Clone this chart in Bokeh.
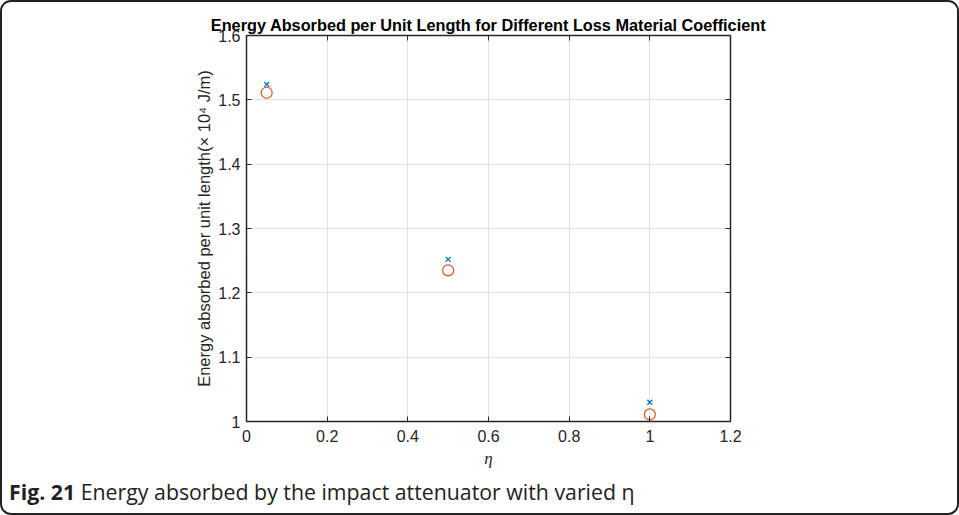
from bokeh.plotting import figure
from bokeh.layouts import column
from bokeh.models import Div, LinearAxis, FixedTicker, CustomJSTickFormatter
from bokeh.embed import file_html
from bokeh.resources import INLINE

# loss material coefficient and absorbed energy (x 10^4 J/m)
eta = [0.05, 0.5, 1.0]
energy_cross = [1.524, 1.252, 1.030]
energy_circle = [1.511, 1.235, 1.011]

x_ticks = [0, 0.2, 0.4, 0.6, 0.8, 1, 1.2]
y_ticks = [1, 1.1, 1.2, 1.3, 1.4, 1.5, 1.6]

AX = "#262626"
TICK_FONT = "Liberation Sans"

p = figure(width=955, height=470, x_range=(0, 1.2), y_range=(1, 1.6),
           output_backend="svg", toolbar_location=None,
           min_border_left=244, min_border_right=227,
           min_border_top=33, min_border_bottom=51)

p.title.text = "Energy Absorbed per Unit Length for Different Loss Material Coefficient"
p.title.align = "center"
p.title.text_font = "Liberation Sans"
p.title.text_font_size = "16.3px"
p.title.text_font_style = "bold"
p.title.text_color = "#000000"
p.title.standoff = 3

p.outline_line_color = AX
p.outline_line_width = 1.5
p.outline_line_alpha = 1

for ax, ticks in ((p.xaxis[0], x_ticks), (p.yaxis[0], y_ticks)):
    ax.ticker = FixedTicker(ticks=ticks)
    ax.major_tick_in = 5
    ax.major_tick_out = 0
    ax.minor_tick_line_color = None
    ax.axis_line_color = AX
    ax.major_tick_line_color = AX
    ax.major_label_text_font = TICK_FONT
    ax.major_label_text_font_size = "16px"
    ax.major_label_text_color = AX

p.xaxis.major_label_standoff = 8
p.yaxis.major_label_standoff = 6
p.xaxis.formatter = CustomJSTickFormatter(code="return String(Number(tick.toFixed(1)));")
p.yaxis.formatter = CustomJSTickFormatter(code="return String(Number(tick.toFixed(1)));")

p.xaxis.axis_label = "η"
p.xaxis.axis_label_text_font = "Liberation Serif"
p.xaxis.axis_label_text_font_style = "italic"
p.xaxis.axis_label_text_font_size = "17px"
p.xaxis.axis_label_text_color = AX
p.xaxis.axis_label_standoff = 4

p.yaxis.axis_label = "Energy absorbed per unit length(× 10⁴ J/m)"
p.yaxis.axis_label_text_font = TICK_FONT
p.yaxis.axis_label_text_font_style = "normal"
p.yaxis.axis_label_text_font_size = "16.5px"
p.yaxis.axis_label_text_color = AX
p.yaxis.axis_label_standoff = 2

# mirrored inward ticks on top and right of the box
blank = CustomJSTickFormatter(code="return '';")
top = LinearAxis(ticker=FixedTicker(ticks=x_ticks), formatter=blank,
                 major_tick_in=5, major_tick_out=0, minor_tick_line_color=None,
                 axis_line_color=AX, major_tick_line_color=AX,
                 major_label_text_font_size="1px", major_label_standoff=0)
right = LinearAxis(ticker=FixedTicker(ticks=y_ticks), formatter=blank,
                   major_tick_in=5, major_tick_out=0, minor_tick_line_color=None,
                   axis_line_color=AX, major_tick_line_color=AX,
                   major_label_text_font_size="1px", major_label_standoff=0)
p.add_layout(top, "above")
p.add_layout(right, "right")

p.xgrid.ticker = FixedTicker(ticks=x_ticks)
p.ygrid.ticker = FixedTicker(ticks=y_ticks)
p.grid.grid_line_color = "#e3e3e3"
p.grid.grid_line_width = 1

p.scatter(eta, energy_cross, marker="x", size=7, line_color="#0072BD", line_width=1.3)
p.scatter(eta, energy_circle, marker="circle", size=11, fill_color=None,
          line_color="#D95319", line_width=1.2)

caption = Div(
    text="<b>Fig. 21</b> Energy absorbed by the impact attenuator with varied η",
    width=955, height=41,
    styles={"font-family": "'Open Sans'", "font-size": "21.3px", "color": "#222222",
            "padding-left": "2px", "line-height": "30px", "white-space": "nowrap"})

page = column(p, caption, spacing=0,
              styles={"border": "2px solid #222", "border-radius": "11px",
                      "width": "959px", "height": "515px", "box-sizing": "border-box",
                      "overflow": "hidden", "background": "white"})

open("out.html", "w").write(file_html(page, INLINE))
